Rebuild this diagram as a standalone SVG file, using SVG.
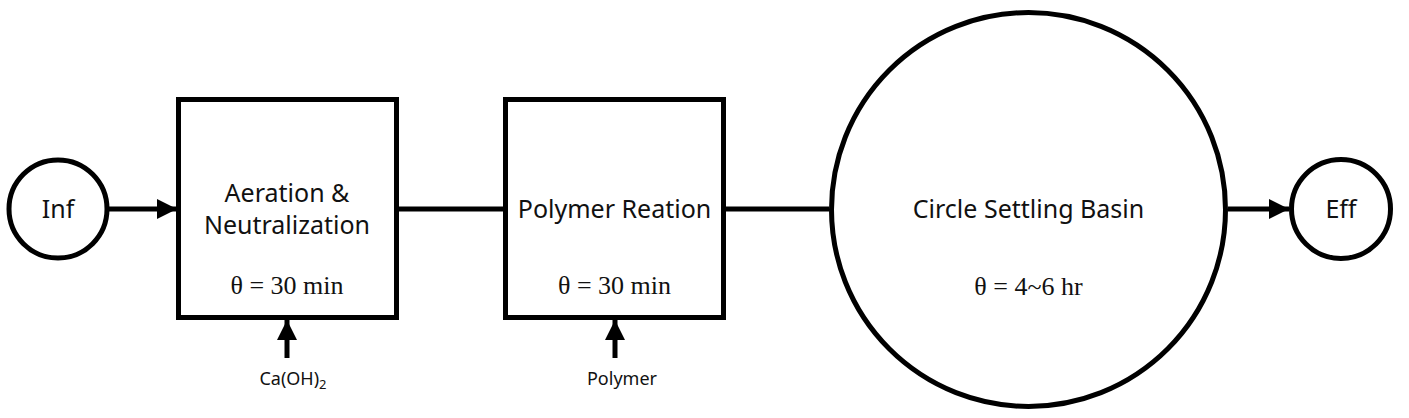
<svg xmlns="http://www.w3.org/2000/svg" width="1409" height="418" viewBox="0 0 1409 418">
<style>
.shape{fill:#fff;stroke:#000;stroke-width:5}
.line{stroke:#000;stroke-width:5;fill:none}
.lbl{font-family:"Noto Sans","Open Sans",sans-serif;font-size:25px;fill:#111;text-anchor:middle}
.th{font-family:"Liberation Serif",serif;font-size:26px;fill:#111;text-anchor:middle}
.small{font-family:"Noto Sans","Open Sans",sans-serif;font-size:18px;fill:#111;text-anchor:middle}
</style>
<defs>
<marker id="ah" markerUnits="userSpaceOnUse" markerWidth="20" markerHeight="20" viewBox="0 0 20 20" refX="20" refY="10" orient="auto">
<path d="M0,0 L20,10 L0,20 Z" fill="#000"/>
</marker>
</defs>
<rect width="1409" height="418" fill="#fff"/>
<g id="connectors">
<line class="line" x1="108" y1="209" x2="177" y2="209" marker-end="url(#ah)"/>
<line class="line" x1="399" y1="209" x2="503" y2="209"/>
<line class="line" x1="726" y1="209" x2="829" y2="209"/>
<line class="line" x1="1228" y1="209" x2="1289" y2="209" marker-end="url(#ah)"/>
<line class="line" x1="287" y1="358" x2="287" y2="320" marker-end="url(#ah)"/>
<line class="line" x1="615" y1="358" x2="615" y2="320" marker-end="url(#ah)"/>
</g>
<g id="inf">
<circle class="shape" cx="58" cy="209" r="49"/>
<text class="lbl" x="58" y="218">Inf</text>
</g>
<g id="aeration">
<rect class="shape" x="178.5" y="99.5" width="218" height="218"/>
<text class="lbl" x="287" y="202">Aeration &amp;</text>
<text class="lbl" x="287" y="234">Neutralization</text>
<text class="th" x="287" y="294">θ = 30 min</text>
</g>
<g id="polymer-reaction">
<rect class="shape" x="505.5" y="99.5" width="218" height="218"/>
<text class="lbl" x="614.5" y="218">Polymer Reation</text>
<text class="th" x="614.5" y="294">θ = 30 min</text>
</g>
<g id="settling">
<circle class="shape" cx="1028.5" cy="209.5" r="197"/>
<text class="lbl" x="1028.5" y="218">Circle Settling Basin</text>
<text class="th" x="1028.5" y="295">θ = 4~6 hr</text>
</g>
<g id="eff">
<circle class="shape" cx="1341" cy="209" r="49.5"/>
<text class="lbl" x="1341" y="218">Eff</text>
</g>
<g id="caoh2">
<text class="small" x="293" y="385">Ca(OH)<tspan font-size="13" dy="4">2</tspan></text>
</g>
<g id="polymer">
<text class="small" x="622" y="385">Polymer</text>
</g>
</svg>
